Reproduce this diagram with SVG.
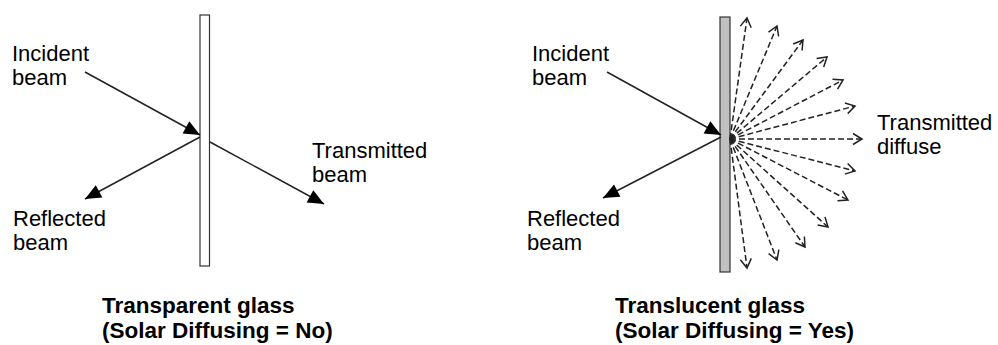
<svg xmlns="http://www.w3.org/2000/svg" width="998" height="345" viewBox="0 0 998 345">
<style>
.lbl{font-family:"Liberation Sans",Arial,sans-serif;font-size:22px;fill:#000}
.cap{font-family:"Liberation Sans",Arial,sans-serif;font-size:22.5px;font-weight:bold;fill:#000}
.beam{stroke:#222;stroke-width:1.5;fill:none;marker-end:url(#solid)}
.diff{stroke:#222;stroke-width:1.5;fill:none;stroke-dasharray:6 3;marker-end:url(#open)}
</style>
<defs>
<marker id="solid" viewBox="-17 -8 18 16" markerWidth="18" markerHeight="16" refX="0" refY="0" orient="auto" markerUnits="userSpaceOnUse">
<path d="M0,0 L-16,-7 L-16,7 Z" fill="#000"/>
</marker>
<marker id="open" viewBox="-11 -7 13 14" markerWidth="13" markerHeight="14" refX="0" refY="0" orient="auto" markerUnits="userSpaceOnUse">
<path d="M-9,-5.5 L0,0 L-9,5.5" fill="none" stroke="#222" stroke-width="1.5"/>
</marker>
</defs>
<g id="glass-transparent"><rect x="200" y="15" width="9.5" height="251" fill="#fff" stroke="#333" stroke-width="1.2"/></g>
<g id="glass-translucent"><rect x="720" y="17" width="10" height="255" fill="#c0c0c0" stroke="#333" stroke-width="1.2"/></g>
<g id="connectors">
<line class="beam" x1="85" y1="72" x2="200" y2="135"/>
<line class="beam" x1="200" y1="137" x2="85" y2="199"/>
<line class="beam" x1="210" y1="142" x2="324" y2="204"/>
<line class="beam" x1="607" y1="72" x2="721" y2="135"/>
<line class="beam" x1="721" y1="137" x2="603" y2="198"/>
<line class="diff" x1="730" y1="139" x2="747" y2="18"/>
<line class="diff" x1="730" y1="139" x2="777" y2="26"/>
<line class="diff" x1="730" y1="139" x2="803" y2="40"/>
<line class="diff" x1="730" y1="139" x2="827" y2="57"/>
<line class="diff" x1="730" y1="139" x2="843" y2="80"/>
<line class="diff" x1="730" y1="139" x2="855" y2="106"/>
<line class="diff" x1="730" y1="139" x2="862" y2="139"/>
<line class="diff" x1="730" y1="139" x2="855" y2="171"/>
<line class="diff" x1="730" y1="139" x2="848" y2="200"/>
<line class="diff" x1="730" y1="139" x2="828" y2="227"/>
<line class="diff" x1="730" y1="139" x2="805" y2="247"/>
<line class="diff" x1="730" y1="139" x2="777" y2="260"/>
<line class="diff" x1="730" y1="139" x2="747" y2="268"/>
</g>
<g id="label-incident-1"><text class="lbl" x="12" y="61">Incident</text><text class="lbl" x="12" y="85">beam</text></g>
<g id="label-reflected-1"><text class="lbl" x="13" y="226">Reflected</text><text class="lbl" x="13" y="250">beam</text></g>
<g id="label-transmitted-1"><text class="lbl" x="312" y="158">Transmitted</text><text class="lbl" x="312" y="182">beam</text></g>
<g id="label-incident-2"><text class="lbl" x="532" y="61">Incident</text><text class="lbl" x="532" y="85">beam</text></g>
<g id="label-reflected-2"><text class="lbl" x="527" y="226">Reflected</text><text class="lbl" x="527" y="250">beam</text></g>
<g id="label-transmitted-2"><text class="lbl" x="877" y="130">Transmitted</text><text class="lbl" x="877" y="154">diffuse</text></g>
<g id="caption-1"><text class="cap" x="102" y="313">Transparent glass</text><text class="cap" x="102" y="338">(Solar Diffusing = No)</text></g>
<g id="caption-2"><text class="cap" x="615" y="313">Translucent glass</text><text class="cap" x="615" y="338">(Solar Diffusing = Yes)</text></g>
</svg>
